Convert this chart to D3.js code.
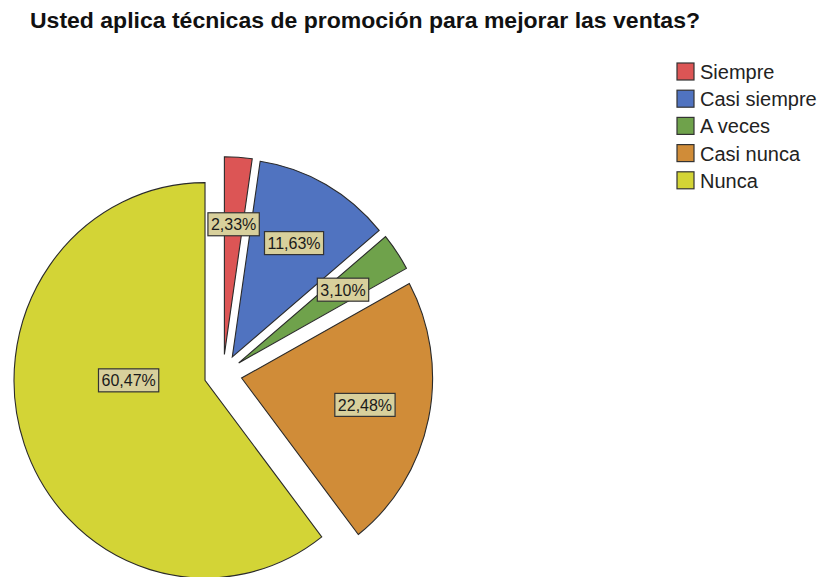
<!DOCTYPE html>
<html>
<head>
<script src="https://d3js.org/d3.v7.min.js"></script>
<style>
  body { margin: 0; background: #fff; }
  text { font-family: "Liberation Sans", Arial, sans-serif; }
</style>
</head>
<body>
<svg width="823" height="577"></svg>
<script>
// data
const categories = ["Siempre", "Casi siempre", "A veces", "Casi nunca", "Nunca"];
const percents = [2.33, 11.63, 3.10, 22.48, 60.47];
const colors = ["#dc5555", "#5073c0", "#6fa24b", "#d08c38", "#d3d436"];
const title = "Usted aplica técnicas de promoción para mejorar las ventas?";

const data = categories.map((c, i) => ({ cat: c, value: percents[i], color: colors[i] }));

const svg = d3.select("svg");

svg.append("text")
  .attr("x", 30)
  .attr("y", 28)
  .attr("textLength", 670)
  .attr("lengthAdjust", "spacingAndGlyphs")
  .style("font-size", "22px")
  .style("font-weight", "bold")
  .attr("fill", "#111")
  .text(title);

// pie
var r = 191, explode = 19, ky = 1.035;
const pie = d3.pie().sort(null).value(d => d.value);
const arcs = pie(data);
const arc = d3.arc().innerRadius(0).outerRadius(r);

const g = svg.append("g")
  .attr("transform", "translate(223,374) scale(1," + ky + ")");

function offset(d) {
  var a = (d.startAngle + d.endAngle) / 2;
  return [Math.sin(a) * explode, -Math.cos(a) * explode];
}

const slices = g.selectAll("g.slice")
  .data(arcs)
  .enter().append("g")
  .attr("class", "slice")
  .attr("transform", d => { var o = offset(d); return "translate(" + o[0] + "," + o[1] + ")"; });

slices.append("path")
  .attr("d", arc)
  .attr("fill", d => d.data.color)
  .attr("stroke", "#2a2a2a")
  .attr("stroke-width", 1.1)
  .attr("vector-effect", "non-scaling-stroke");

// labels (drawn outside the scaled group so boxes stay square)
const fmt = v => d3.format(".2f")(v).replace(".", ",") + "%";
const maxVal = d3.max(percents);

arcs.forEach(d => {
  var o = offset(d);
  var cx, cy;
  if (d.data.value === maxVal) {
    cx = o[0] - r * 0.4;
    cy = o[1];
  } else {
    var lr = r * 0.66;
    var c = d3.arc().innerRadius(lr).outerRadius(lr).centroid(d);
    cx = o[0] + c[0];
    cy = o[1] + c[1];
  }
  var px = 223 + cx, py = 374 + cy * ky;
  var lbl = svg.append("g").attr("transform", "translate(" + px + "," + py + ")");
  var t = lbl.append("text")
    .attr("text-anchor", "middle")
    .attr("y", 6)
    .style("font-size", "16px")
    .attr("fill", "#1a1a1a")
    .text(fmt(d.data.value));
  var w = t.node().getComputedTextLength() + 6;
  lbl.insert("rect", "text")
    .attr("x", -w / 2)
    .attr("y", -11.5)
    .attr("width", w)
    .attr("height", 23)
    .attr("fill", "#d8d09c")
    .attr("stroke", "#333")
    .attr("stroke-width", 1.2);
});

// legend
const legend = svg.append("g").attr("transform", "translate(677,63)");
data.forEach((d, i) => {
  var row = legend.append("g").attr("transform", "translate(0," + (i * 27.2) + ")");
  row.append("rect")
    .attr("width", 17)
    .attr("height", 17)
    .attr("fill", d.color)
    .attr("stroke", "#333")
    .attr("stroke-width", 1.2);
  row.append("text")
    .attr("x", 23)
    .attr("y", 16)
    .style("font-size", "20px")
    .attr("fill", "#222")
    .text(d.cat);
});
</script>
</body>
</html>
